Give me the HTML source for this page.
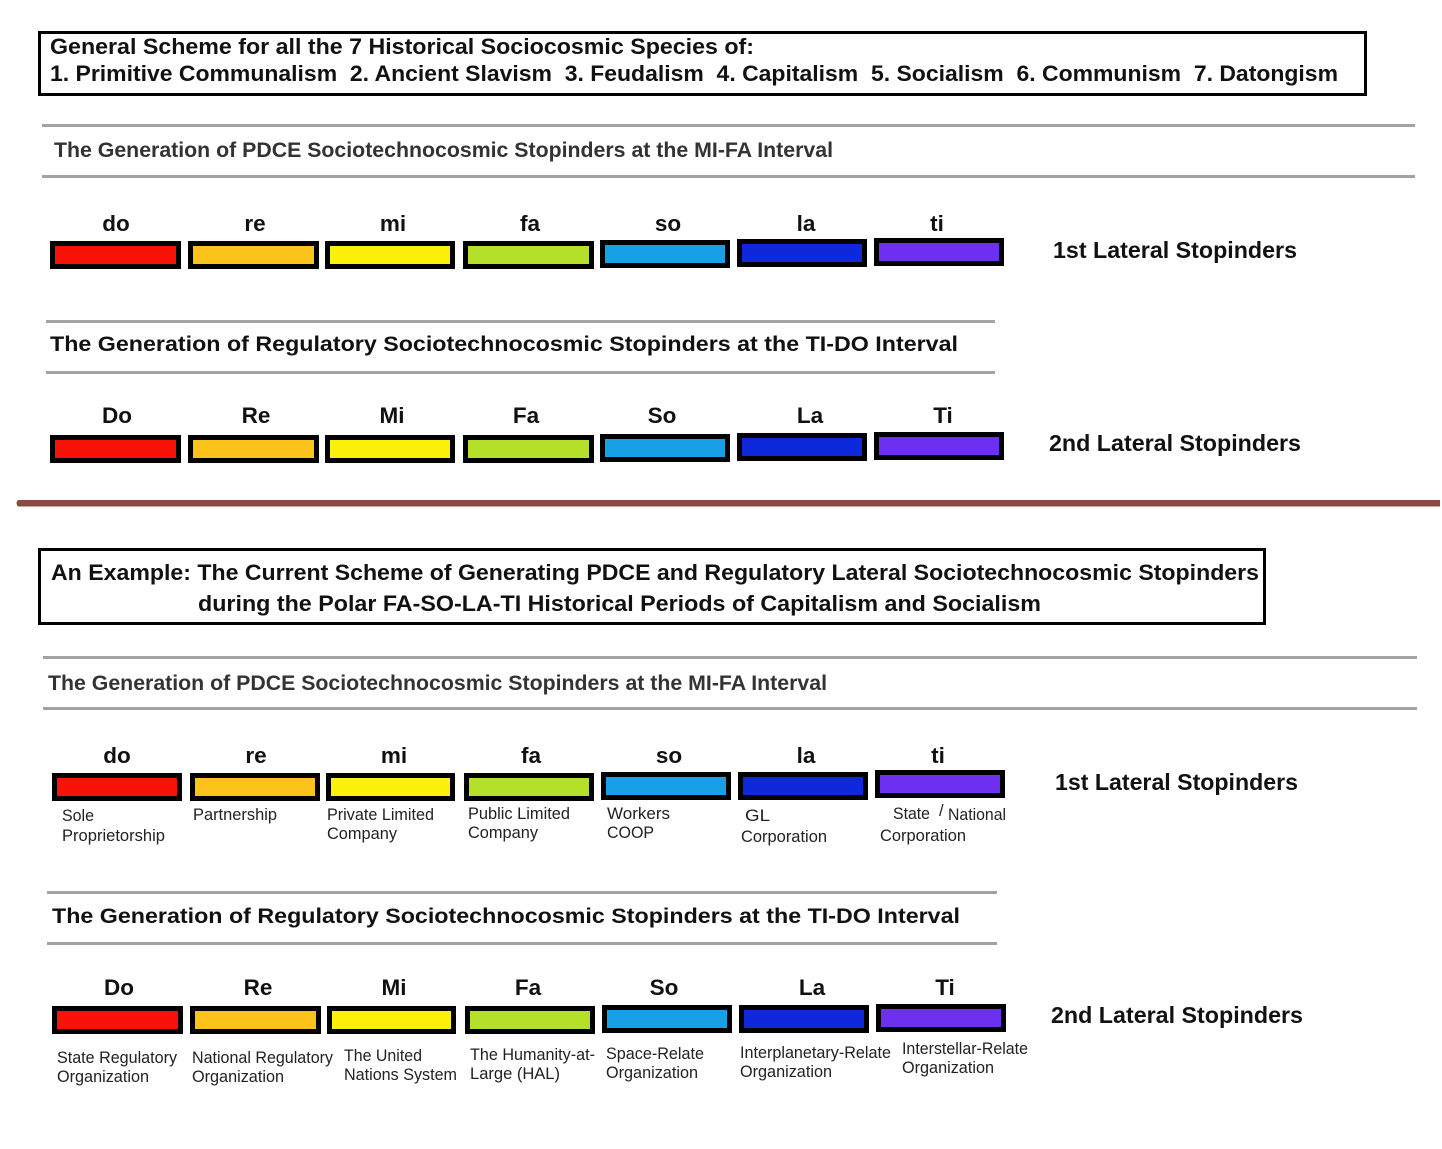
<!DOCTYPE html>
<html>
<head>
<meta charset="utf-8">
<style>
html,body{margin:0;padding:0;background:#fff;}
svg{display:block;}
text{font-family:"Liberation Sans",Arial,sans-serif;}
.t{font-size:22px;font-weight:bold;fill:#111;}
.h1{font-size:21px;font-weight:bold;fill:#333;}
.h2{font-size:21.5px;font-weight:bold;fill:#111;}
.n{font-size:22.5px;font-weight:bold;fill:#111;text-anchor:middle;}
.lat{font-size:23.5px;font-weight:bold;fill:#111;}
.s{font-size:16.5px;fill:#222;}
</style>
</head>
<body>
<svg width="1442" height="1149" viewBox="0 0 1442 1149" xmlns="http://www.w3.org/2000/svg">
<rect width="1442" height="1149" fill="#fff"/>

<!-- Top title box -->
<rect x="39.5" y="32.5" width="1326" height="62" fill="none" stroke="#000" stroke-width="3"/>
<text class="t" x="50" y="54" textLength="704" lengthAdjust="spacingAndGlyphs">General Scheme for all the 7 Historical Sociocosmic Species of:</text>
<text class="t" x="50" y="81" textLength="1288" lengthAdjust="spacingAndGlyphs" xml:space="preserve">1. Primitive Communalism  2. Ancient Slavism  3. Feudalism  4. Capitalism  5. Socialism  6. Communism  7. Datongism</text>

<!-- Section 1 -->
<line x1="42" y1="125.5" x2="1415" y2="125.5" stroke="#a2a2a2" stroke-width="3"/>
<line x1="42" y1="176.5" x2="1415" y2="176.5" stroke="#a2a2a2" stroke-width="3"/>
<text class="h1" x="54" y="157" textLength="779" lengthAdjust="spacingAndGlyphs">The Generation of PDCE Sociotechnocosmic Stopinders at the MI-FA Interval</text>

<text class="n" x="116" y="231">do</text>
<text class="n" x="255" y="231">re</text>
<text class="n" x="393" y="231">mi</text>
<text class="n" x="530" y="231">fa</text>
<text class="n" x="668" y="231">so</text>
<text class="n" x="806" y="231">la</text>
<text class="n" x="937" y="231">ti</text>

<g>
<rect x="50" y="241" width="131" height="28" fill="#000"/><rect x="55" y="246" width="121" height="18" fill="#f81208"/>
<rect x="188" y="241" width="131" height="28" fill="#000"/><rect x="193" y="246" width="121" height="18" fill="#fbc31a"/>
<rect x="325" y="241" width="130" height="28" fill="#000"/><rect x="330" y="246" width="120" height="18" fill="#fdf00a"/>
<rect x="463" y="241" width="131" height="28" fill="#000"/><rect x="468" y="246" width="121" height="18" fill="#b4e02a"/>
<rect x="600" y="240" width="130" height="28" fill="#000"/><rect x="605" y="245" width="120" height="18" fill="#17a0e6"/>
<rect x="737" y="239" width="130" height="28" fill="#000"/><rect x="742" y="244" width="120" height="18" fill="#0f28dc"/>
<rect x="874" y="238" width="130" height="28" fill="#000"/><rect x="879" y="243" width="120" height="18" fill="#6e30f0"/>
</g>
<text class="lat" x="1053" y="258" textLength="244" lengthAdjust="spacingAndGlyphs">1st Lateral Stopinders</text>

<!-- Section 2 -->
<line x1="46" y1="321.5" x2="995" y2="321.5" stroke="#a2a2a2" stroke-width="3"/>
<line x1="46" y1="372.5" x2="995" y2="372.5" stroke="#a2a2a2" stroke-width="3"/>
<text class="h2" x="50" y="351" textLength="908" lengthAdjust="spacingAndGlyphs">The Generation of Regulatory Sociotechnocosmic Stopinders at the TI-DO Interval</text>

<text class="n" x="117" y="423">Do</text>
<text class="n" x="256" y="423">Re</text>
<text class="n" x="392" y="423">Mi</text>
<text class="n" x="526" y="423">Fa</text>
<text class="n" x="662" y="423">So</text>
<text class="n" x="810" y="423">La</text>
<text class="n" x="943" y="423">Ti</text>

<g>
<rect x="50" y="435" width="131" height="28" fill="#000"/><rect x="55" y="440" width="121" height="18" fill="#f81208"/>
<rect x="188" y="435" width="131" height="28" fill="#000"/><rect x="193" y="440" width="121" height="18" fill="#fbc31a"/>
<rect x="325" y="435" width="130" height="28" fill="#000"/><rect x="330" y="440" width="120" height="18" fill="#fdf00a"/>
<rect x="463" y="435" width="131" height="28" fill="#000"/><rect x="468" y="440" width="121" height="18" fill="#b4e02a"/>
<rect x="600" y="434" width="130" height="28" fill="#000"/><rect x="605" y="439" width="120" height="18" fill="#17a0e6"/>
<rect x="737" y="433" width="130" height="28" fill="#000"/><rect x="742" y="438" width="120" height="18" fill="#0f28dc"/>
<rect x="874" y="432" width="130" height="28" fill="#000"/><rect x="879" y="437" width="120" height="18" fill="#6e30f0"/>
</g>
<text class="lat" x="1049" y="451" textLength="252" lengthAdjust="spacingAndGlyphs">2nd Lateral Stopinders</text>

<!-- Divider -->
<path d="M18 500 L1440 500 L1440 506.5 L18 506.5 Q15 503 18 500 Z" fill="#8a4a42"/>

<!-- Example box -->
<rect x="39.5" y="549.5" width="1225" height="74" fill="none" stroke="#000" stroke-width="3"/>
<text class="t" x="51" y="580" textLength="1208" lengthAdjust="spacingAndGlyphs">An Example: The Current Scheme of Generating PDCE and Regulatory Lateral Sociotechnocosmic Stopinders</text>
<text class="t" x="198" y="611" textLength="843" lengthAdjust="spacingAndGlyphs">during the Polar FA-SO-LA-TI Historical Periods of Capitalism and Socialism</text>

<!-- Section 3 -->
<line x1="43" y1="657.5" x2="1417" y2="657.5" stroke="#a2a2a2" stroke-width="3"/>
<line x1="43" y1="708.5" x2="1417" y2="708.5" stroke="#a2a2a2" stroke-width="3"/>
<text class="h1" x="48" y="690" textLength="779" lengthAdjust="spacingAndGlyphs">The Generation of PDCE Sociotechnocosmic Stopinders at the MI-FA Interval</text>

<text class="n" x="117" y="763">do</text>
<text class="n" x="256" y="763">re</text>
<text class="n" x="394" y="763">mi</text>
<text class="n" x="531" y="763">fa</text>
<text class="n" x="669" y="763">so</text>
<text class="n" x="806" y="763">la</text>
<text class="n" x="938" y="763">ti</text>

<g>
<rect x="52" y="773" width="130" height="28" fill="#000"/><rect x="57" y="778" width="120" height="18" fill="#f81208"/>
<rect x="190" y="773" width="130" height="28" fill="#000"/><rect x="195" y="778" width="120" height="18" fill="#fbc31a"/>
<rect x="326" y="773" width="129" height="28" fill="#000"/><rect x="331" y="778" width="119" height="18" fill="#fdf00a"/>
<rect x="464" y="773" width="130" height="28" fill="#000"/><rect x="469" y="778" width="120" height="18" fill="#b4e02a"/>
<rect x="601" y="772" width="130" height="28" fill="#000"/><rect x="606" y="777" width="120" height="18" fill="#17a0e6"/>
<rect x="738" y="772" width="130" height="28" fill="#000"/><rect x="743" y="777" width="120" height="18" fill="#0f28dc"/>
<rect x="875" y="770" width="130" height="28" fill="#000"/><rect x="880" y="775" width="120" height="18" fill="#6e30f0"/>
</g>
<text class="lat" x="1055" y="790" textLength="243" lengthAdjust="spacingAndGlyphs">1st Lateral Stopinders</text>

<text class="s" x="62" y="821" textLength="32" lengthAdjust="spacingAndGlyphs">Sole</text>
<text class="s" x="62" y="841" textLength="103" lengthAdjust="spacingAndGlyphs">Proprietorship</text>
<text class="s" x="193" y="820" textLength="84" lengthAdjust="spacingAndGlyphs">Partnership</text>
<text class="s" x="327" y="820" textLength="107" lengthAdjust="spacingAndGlyphs">Private Limited</text>
<text class="s" x="327" y="839" textLength="70" lengthAdjust="spacingAndGlyphs">Company</text>
<text class="s" x="468" y="819" textLength="102" lengthAdjust="spacingAndGlyphs">Public Limited</text>
<text class="s" x="468" y="838" textLength="70" lengthAdjust="spacingAndGlyphs">Company</text>
<text class="s" x="607" y="819" textLength="63" lengthAdjust="spacingAndGlyphs">Workers</text>
<text class="s" x="607" y="838" textLength="47" lengthAdjust="spacingAndGlyphs">COOP</text>
<text class="s" x="745" y="821" textLength="25" lengthAdjust="spacingAndGlyphs">GL</text>
<text class="s" x="741" y="842" textLength="86" lengthAdjust="spacingAndGlyphs">Corporation</text>
<text class="s" x="893" y="819" textLength="37" lengthAdjust="spacingAndGlyphs">State</text>
<text class="s" x="939" y="816" font-size="12">/</text>
<text class="s" x="948" y="820" textLength="58" lengthAdjust="spacingAndGlyphs">National</text>
<text class="s" x="880" y="841" textLength="86" lengthAdjust="spacingAndGlyphs">Corporation</text>

<!-- Section 4 -->
<line x1="47" y1="892.5" x2="997" y2="892.5" stroke="#a2a2a2" stroke-width="3"/>
<line x1="47" y1="943.5" x2="997" y2="943.5" stroke="#a2a2a2" stroke-width="3"/>
<text class="h2" x="52" y="923" textLength="908" lengthAdjust="spacingAndGlyphs">The Generation of Regulatory Sociotechnocosmic Stopinders at the TI-DO Interval</text>

<text class="n" x="119" y="995">Do</text>
<text class="n" x="258" y="995">Re</text>
<text class="n" x="394" y="995">Mi</text>
<text class="n" x="528" y="995">Fa</text>
<text class="n" x="664" y="995">So</text>
<text class="n" x="812" y="995">La</text>
<text class="n" x="945" y="995">Ti</text>

<g>
<rect x="52" y="1006" width="131" height="28" fill="#000"/><rect x="57" y="1011" width="121" height="18" fill="#f81208"/>
<rect x="190" y="1006" width="131" height="28" fill="#000"/><rect x="195" y="1011" width="121" height="18" fill="#fbc31a"/>
<rect x="327" y="1006" width="129" height="28" fill="#000"/><rect x="332" y="1011" width="119" height="18" fill="#fdf00a"/>
<rect x="465" y="1006" width="130" height="28" fill="#000"/><rect x="470" y="1011" width="120" height="18" fill="#b4e02a"/>
<rect x="602" y="1005" width="130" height="28" fill="#000"/><rect x="607" y="1010" width="120" height="18" fill="#17a0e6"/>
<rect x="739" y="1005" width="130" height="28" fill="#000"/><rect x="744" y="1010" width="120" height="18" fill="#0f28dc"/>
<rect x="876" y="1004" width="130" height="28" fill="#000"/><rect x="881" y="1009" width="120" height="18" fill="#6e30f0"/>
</g>
<text class="lat" x="1051" y="1023" textLength="252" lengthAdjust="spacingAndGlyphs">2nd Lateral Stopinders</text>

<text class="s" x="57" y="1063" textLength="120" lengthAdjust="spacingAndGlyphs">State Regulatory</text>
<text class="s" x="57" y="1082" textLength="92" lengthAdjust="spacingAndGlyphs">Organization</text>
<text class="s" x="192" y="1063" textLength="141" lengthAdjust="spacingAndGlyphs">National Regulatory</text>
<text class="s" x="192" y="1082" textLength="92" lengthAdjust="spacingAndGlyphs">Organization</text>
<text class="s" x="344" y="1061" textLength="78" lengthAdjust="spacingAndGlyphs">The United</text>
<text class="s" x="344" y="1080" textLength="113" lengthAdjust="spacingAndGlyphs">Nations System</text>
<text class="s" x="470" y="1060" textLength="125" lengthAdjust="spacingAndGlyphs">The Humanity-at-</text>
<text class="s" x="470" y="1079" textLength="90" lengthAdjust="spacingAndGlyphs">Large (HAL)</text>
<text class="s" x="606" y="1059" textLength="98" lengthAdjust="spacingAndGlyphs">Space-Relate</text>
<text class="s" x="606" y="1078" textLength="92" lengthAdjust="spacingAndGlyphs">Organization</text>
<text class="s" x="740" y="1058" textLength="151" lengthAdjust="spacingAndGlyphs">Interplanetary-Relate</text>
<text class="s" x="740" y="1077" textLength="92" lengthAdjust="spacingAndGlyphs">Organization</text>
<text class="s" x="902" y="1054" textLength="126" lengthAdjust="spacingAndGlyphs">Interstellar-Relate</text>
<text class="s" x="902" y="1073" textLength="92" lengthAdjust="spacingAndGlyphs">Organization</text>
</svg>
</body>
</html>
